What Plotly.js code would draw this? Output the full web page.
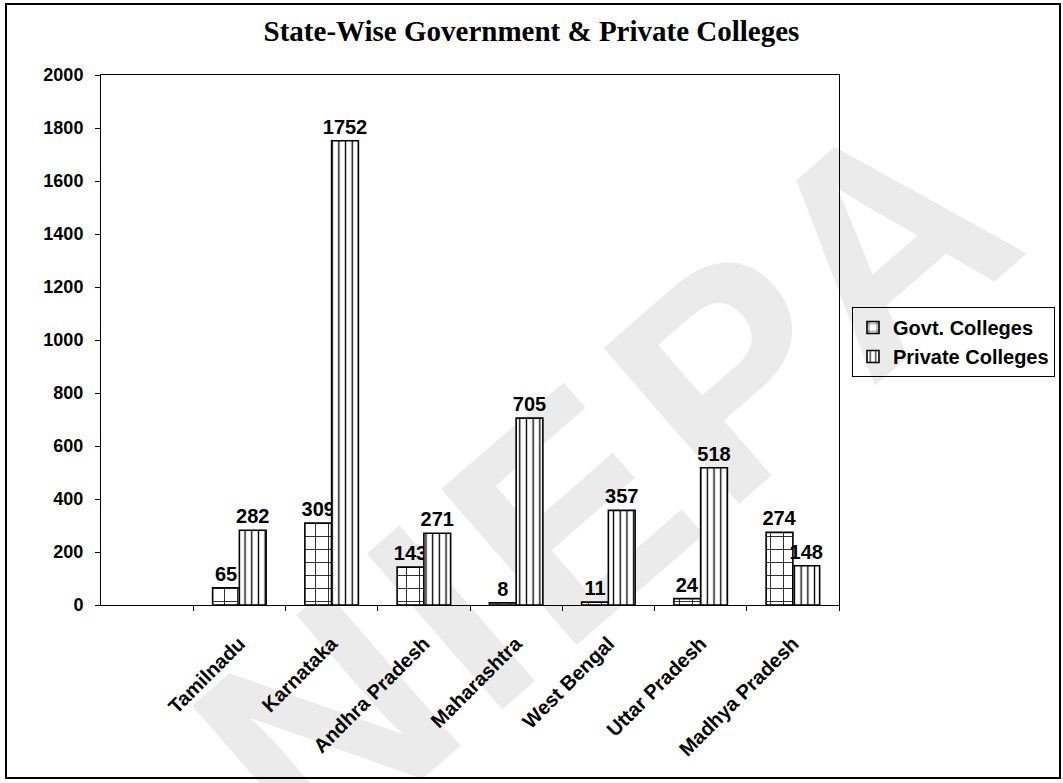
<!DOCTYPE html>
<html>
<head>
<meta charset="utf-8">
<script src="https://cdn.plot.ly/plotly-3.0.1.min.js"></script>
<style>
  html, body { margin: 0; padding: 0; background: #ffffff; }
  #wrap { position: relative; width: 1063px; height: 783px; overflow: hidden; background: #ffffff; }
  #wm { position: absolute; left: 610px; top: 478px; transform: translate(-50%, -50%) rotate(-41deg);
        font-family: Arial, "Liberation Sans", sans-serif; font-weight: bold; font-size: 300px;
        color: #ebebeb; letter-spacing: 15px; white-space: nowrap; line-height: 1; }
  #chart { position: absolute; left: 0; top: 0; }
  #frame { position: absolute; left: 5px; top: 3px; width: 1052px; height: 772px;
           border: 2px solid #000; pointer-events: none; }
</style>
</head>
<body>
<div id="wrap">
  <div id="wm">NIEPA</div>
  <div id="chart"></div>
  <div id="frame"></div>
</div>
<script>
const states = ["Tamilnadu", "Karnataka", "Andhra Pradesh", "Maharashtra", "West Bengal", "Uttar Pradesh", "Madhya Pradesh"];
const govtColleges = [65, 309, 143, 8, 11, 24, 274];
const privateColleges = [282, 1752, 271, 705, 357, 518, 148];
const yTicks = [0, 200, 400, 600, 800, 1000, 1200, 1400, 1600, 1800, 2000];

const sans = "Arial, 'Liberation Sans', sans-serif";
const labelFont = { family: sans, size: 20, color: "#000", weight: "bold" };

const traces = [
  {
    type: "bar", name: "Govt. Colleges", x: states, y: govtColleges,
    text: govtColleges.map(String), textposition: "outside", textfont: labelFont,
    constraintext: "none", cliponaxis: false, hoverinfo: "skip",
    marker: { color: "#ffffff", line: { color: "#000", width: 1.6 },
              pattern: { shape: "+", fgcolor: "#000", bgcolor: "#ffffff", size: 13, solidity: 0.12 } }
  },
  {
    type: "bar", name: "Private Colleges", x: states, y: privateColleges,
    text: privateColleges.map(String), textposition: "outside", textfont: labelFont,
    constraintext: "none", cliponaxis: false, hoverinfo: "skip",
    marker: { color: "#ffffff", line: { color: "#000", width: 1.6 },
              pattern: { shape: "|", fgcolor: "#000", bgcolor: "#ffffff", size: 6.7, solidity: 0.2 } }
  }
];

const layout = {
  width: 1063, height: 783,
  margin: { l: 101, r: 224, t: 75, b: 178 },
  paper_bgcolor: "rgba(0,0,0,0)", plot_bgcolor: "rgba(0,0,0,0)",
  showlegend: true,
  title: {
    text: "State-Wise Government & Private Colleges",
    font: { family: "'Times New Roman', 'Liberation Serif', serif", size: 29, color: "#000", weight: "bold" },
    x: 0.5, xref: "container", xanchor: "center", y: 0.96, yref: "container", yanchor: "middle"
  },
  barmode: "group", bargap: 0.42, bargroupgap: 0,
  xaxis: {
    type: "category", categoryorder: "array", categoryarray: states,
    range: [-1.5, 6.5], fixedrange: true,
    showline: true, linecolor: "#000", linewidth: 1, mirror: true,
    ticks: "outside", tickson: "boundaries", ticklen: 5, tickcolor: "#000", tickwidth: 1,
    tickangle: -45, ticklabelstandoff: 18, showgrid: false, zeroline: false,
    tickfont: { family: sans, size: 20, color: "#000", weight: "bold" }
  },
  yaxis: {
    range: [0, 2000], tickvals: yTicks, ticktext: yTicks.map(String), fixedrange: true,
    showline: true, linecolor: "#000", linewidth: 1, mirror: true,
    ticks: "outside", ticklen: 5, tickcolor: "#000", tickwidth: 1, ticklabelstandoff: 8,
    showgrid: false, zeroline: false,
    tickfont: { family: sans, size: 18, color: "#000", weight: "bold" }
  },
  legend: {
    xref: "container", yref: "container",
    x: 0.8015, xanchor: "left", y: 0.608, yanchor: "top",
    bordercolor: "#000", borderwidth: 1, bgcolor: "rgba(255,255,255,0)",
    font: { family: sans, size: 20, color: "#000", weight: "bold" },
    itemwidth: 30, traceorder: "normal"
  }
};

Plotly.newPlot("chart", traces, layout, { displayModeBar: false, staticPlot: true });
</script>
</body>
</html>
